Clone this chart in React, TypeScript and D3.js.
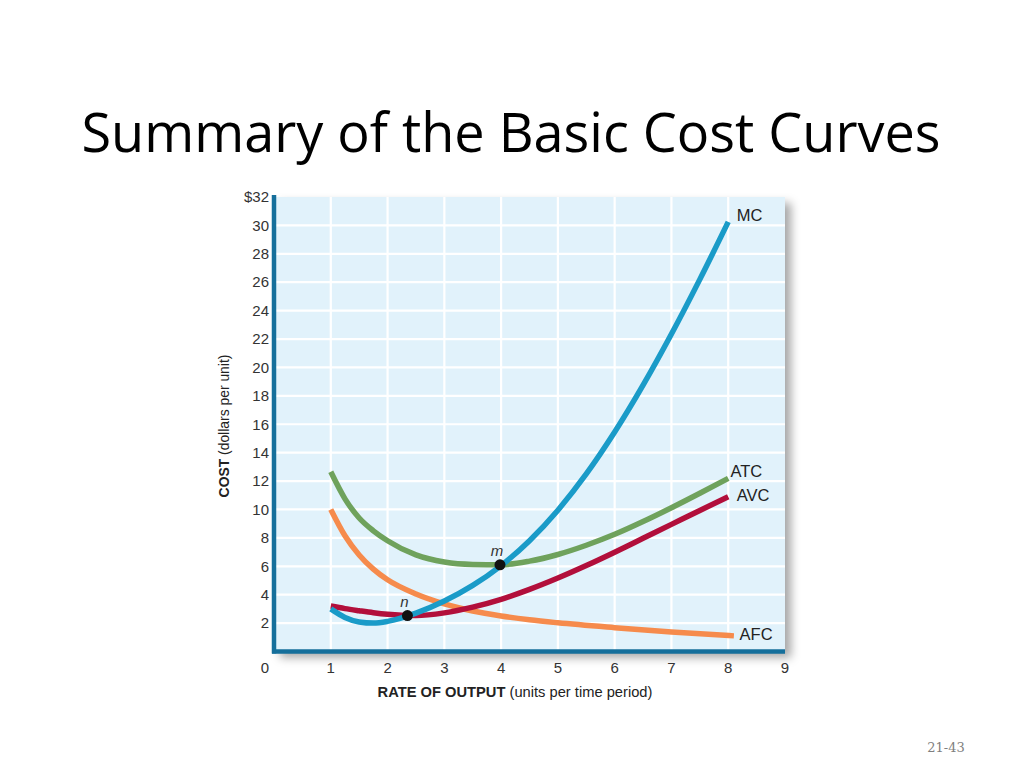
import * as React from 'react';
import * as d3 from 'd3';

// output levels (x)
const outputQ = [1, 1.25, 1.5, 1.75, 2, 2.5, 3, 3.5, 4, 4.5, 5, 5.5, 6, 6.5, 7, 7.5, 8];
const mcValues = [3.0, 2.4, 2.08, 2.0, 2.12, 2.7, 3.55, 4.65, 6.05, 7.8, 9.95, 12.5, 15.45, 18.75, 22.35, 26.2, 30.25];
const atcValues = [12.65, 10.75, 9.4, 8.5, 7.8, 6.8, 6.3, 6.13, 6.11, 6.36, 6.83, 7.48, 8.25, 9.15, 10.12, 11.14, 12.19];
const avcValues = [3.2, 3.02, 2.87, 2.73, 2.62, 2.53, 2.72, 3.12, 3.67, 4.37, 5.17, 6.05, 6.99, 7.97, 8.95, 9.93, 10.9];
const afcQ = [1, 1.25, 1.5, 1.75, 2, 2.5, 3, 3.5, 4, 4.5, 5, 6, 7, 8.1];
const afcValues = [10.0, 8.15, 6.8, 5.8, 5.05, 4.05, 3.35, 2.85, 2.5, 2.23, 2.02, 1.68, 1.38, 1.1];

const xTicks = [0, 1, 2, 3, 4, 5, 6, 7, 8, 9];
const yTicks = [2, 4, 6, 8, 10, 12, 14, 16, 18, 20, 22, 24, 26, 28, 30, 32];

const points = [
  { name: 'n', q: 2.35, c: 2.53 },
  { name: 'm', q: 3.98, c: 6.1 },
];

const W = 1024;
const H = 768;
const left = 274;
const right = 785;
const top = 197;
const bottom = 651.5;

const x = d3.scaleLinear().domain([0, 9]).range([left, right]);
const y = d3.scaleLinear().domain([0, 32]).range([bottom, top]);

const labelFont = 'Liberation Sans, Arial, sans-serif';

export default function App() {
  React.useEffect(() => {
    document.body.style.margin = '0';
  }, []);

  const line = d3
    .line<[number, number]>()
    .x((d) => x(d[0]))
    .y((d) => y(d[1]))
    .curve(d3.curveMonotoneX);

  const curves = [
    { name: 'AFC', q: afcQ, v: afcValues, color: '#f68b4c' },
    { name: 'AVC', q: outputQ, v: avcValues, color: '#b20f3b' },
    { name: 'ATC', q: outputQ, v: atcValues, color: '#6fa25c' },
    { name: 'MC', q: outputQ, v: mcValues, color: '#1a9bc8' },
  ];

  const labels = [
    { text: 'MC', q: 8.15, c: 30.6 },
    { text: 'ATC', q: 8.04, c: 12.6 },
    { text: 'AVC', q: 8.15, c: 10.9 },
    { text: 'AFC', q: 8.2, c: 1.15 },
  ];

  return (
    <svg width={W} height={H} style={{ display: 'block', background: '#fff' }}>
      <defs>
        <filter id="shadow" x="-5%" y="-5%" width="115%" height="115%">
          <feDropShadow dx="6" dy="6" stdDeviation="5" floodColor="#000" floodOpacity="0.35" />
        </filter>
        <clipPath id="plot">
          <rect x={left} y={top - 5} width={right - left} height={bottom - top + 5} />
        </clipPath>
      </defs>

      <text
        x={511}
        y={152}
        textAnchor="middle"
        fontFamily="Open Sans, Carlito, sans-serif"
        fontSize={54}
        fill="#000"
      >
        Summary of the Basic Cost Curves
      </text>

      {/* plot panel */}
      <rect
        x={left}
        y={top}
        width={right - left}
        height={bottom - top}
        fill="#e1f2fb"
        filter="url(#shadow)"
      />

      {/* grid */}
      <g stroke="#ffffff" strokeWidth={2.2}>
        {xTicks.slice(1, -1).map((t) => (
          <line key={'gx' + t} x1={x(t)} x2={x(t)} y1={top} y2={bottom} />
        ))}
        {yTicks.slice(0, -1).map((t) => (
          <line key={'gy' + t} x1={left} x2={right} y1={y(t)} y2={y(t)} />
        ))}
      </g>

      {/* curves */}
      <g clipPath="url(#plot)" fill="none" strokeWidth={5.5} strokeLinecap="butt">
        {curves.map((cv) => (
          <path
            key={cv.name}
            d={line(cv.q.map((q, i) => [q, cv.v[i]] as [number, number])) || ''}
            stroke={cv.color}
          />
        ))}
      </g>

      {/* axes */}
      <line x1={left} x2={left} y1={top - 2} y2={bottom + 2} stroke="#156f9b" strokeWidth={4.5} />
      <line x1={left - 2} x2={right} y1={bottom} y2={bottom} stroke="#156f9b" strokeWidth={4.5} />

      {/* points */}
      {points.map((p) => (
        <g key={p.name}>
          <circle cx={x(p.q)} cy={y(p.c)} r={5.5} fill="#111" />
          <text
            x={x(p.q) - 3}
            y={y(p.c) - 9}
            textAnchor="middle"
            fontFamily={labelFont}
            fontStyle="italic"
            fontSize={15}
            fill="#333"
          >
            {p.name}
          </text>
        </g>
      ))}

      {/* curve labels */}
      {labels.map((l) => (
        <text
          key={l.text}
          x={x(l.q)}
          y={y(l.c)}
          fontFamily={labelFont}
          fontSize={16.5}
          fill="#222"
          dominantBaseline="middle"
        >
          {l.text}
        </text>
      ))}

      {/* y tick labels */}
      <g fontFamily={labelFont} fontSize={15} fill="#333" textAnchor="end">
        {yTicks.map((t) => (
          <text key={'yt' + t} x={left - 5} y={y(t)} dy="0.35em">
            {t === 32 ? '$32' : t}
          </text>
        ))}
      </g>

      {/* x tick labels */}
      <g fontFamily={labelFont} fontSize={15} fill="#333" textAnchor="middle">
        {xTicks.map((t) => (
          <text key={'xt' + t} x={t === 0 ? left - 9 : x(t)} y={673}>
            {t}
          </text>
        ))}
      </g>

      {/* axis titles */}
      <text x={515} y={697} textAnchor="middle" fontFamily={labelFont} fontSize={14.7} fill="#222">
        <tspan fontWeight="bold">RATE OF OUTPUT</tspan> (units per time period)
      </text>
      <text
        transform={`translate(229, ${426}) rotate(-90)`}
        textAnchor="middle"
        fontFamily={labelFont}
        fontSize={13.9}
        fill="#222"
      >
        <tspan fontWeight="bold">COST</tspan> (dollars per unit)
      </text>

      <text x={946} y={752} textAnchor="middle" fontFamily="DejaVu Serif, serif" fontSize={13} fill="#7f7f7f">
        21-43
      </text>
    </svg>
  );
}
